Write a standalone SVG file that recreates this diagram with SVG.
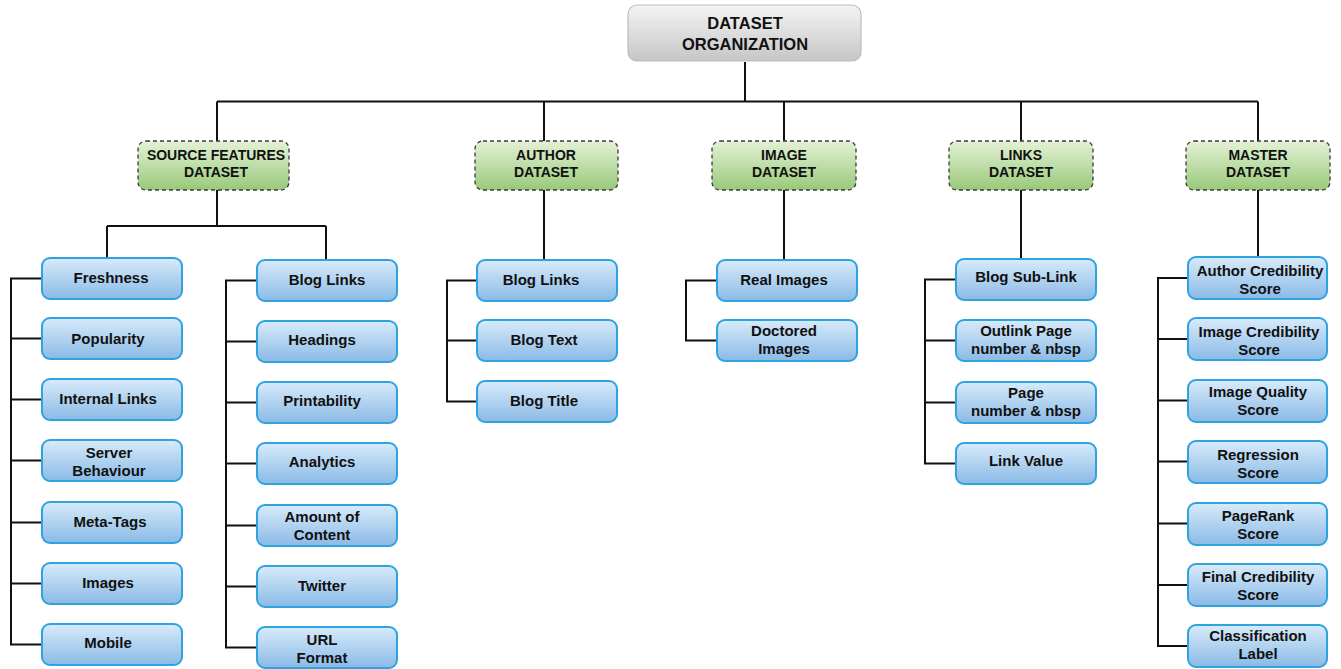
<svg xmlns="http://www.w3.org/2000/svg" width="1341" height="669" viewBox="0 0 1341 669">
  <defs>
    <linearGradient id="gRoot" x1="0" y1="0" x2="0" y2="1">
      <stop offset="0" stop-color="#f4f4f4"/>
      <stop offset="1" stop-color="#c6c6c6"/>
    </linearGradient>
    <linearGradient id="gCat" x1="0" y1="0" x2="0" y2="1">
      <stop offset="0" stop-color="#e4f1d6"/>
      <stop offset="1" stop-color="#98ca7a"/>
    </linearGradient>
    <linearGradient id="gLeaf" x1="0" y1="0" x2="0" y2="1">
      <stop offset="0" stop-color="#d8ebfa"/>
      <stop offset="1" stop-color="#8abae6"/>
    </linearGradient>
  </defs>
  <style>
    text { font-family: "Liberation Sans", Arial, sans-serif; font-weight: bold; fill: #111; text-anchor: middle; }
    .root rect { fill: url(#gRoot); stroke: #bdbdbd; stroke-width: 1.2; }
    .root text { font-size: 16.5px; }
    .cat rect { fill: url(#gCat); stroke: #3a3a3a; stroke-width: 1.3; stroke-dasharray: 4 3; }
    .cat text { font-size: 14px; }
    .leaf rect { fill: url(#gLeaf); stroke: #2ea3e0; stroke-width: 2; }
    .leaf text { font-size: 15px; }
    #connectors path { fill: none; stroke: #111; stroke-width: 2; }
  </style>

  <rect width="1341" height="669" fill="#ffffff"/>

  <!-- connectors -->
  <g id="connectors">
    <path d="M745 62 V101.5"/>
    <path d="M217 101.5 H1258"/>
    <path d="M217 101.5 V141 M544 101.5 V141 M784 101.5 V141 M1021 101.5 V141 M1258 101.5 V141"/>
    <!-- source features -->
    <path d="M217 190 V226 M107 226 H326 M107 226 V258 M326 226 V260"/>
    <path d="M42 278.5 H11 V644.5 H42 M11 338.5 H42 M11 399.5 H42 M11 460.5 H42 M11 522.5 H42 M11 583.5 H42"/>
    <path d="M257 280.5 H226 V647.5 H257 M226 341.5 H257 M226 402.5 H257 M226 463.5 H257 M226 525.5 H257 M226 586.5 H257"/>
    <!-- author -->
    <path d="M544 190 V260"/>
    <path d="M477 280.5 H447 V401.5 H477 M447 340.5 H477"/>
    <!-- image -->
    <path d="M784 190 V260"/>
    <path d="M717 280.5 H686 V340.5 H717"/>
    <!-- links -->
    <path d="M1021 190 V259"/>
    <path d="M956 279.5 H925 V463.5 H956 M925 340.5 H956 M925 402.5 H956"/>
    <!-- master -->
    <path d="M1258 190 V257"/>
    <path d="M1188 278 H1158 V646 H1188 M1158 339 H1188 M1158 400.5 H1188 M1158 461.5 H1188 M1158 523.5 H1188 M1158 585 H1188"/>
  </g>

  <!-- root -->
  <g id="root" class="root">
    <rect x="628" y="5" width="233" height="56" rx="9"/>
    <text x="745" y="29">DATASET</text>
    <text x="745" y="50">ORGANIZATION</text>
  </g>

  <!-- categories -->
  <g id="cat-source" class="cat">
    <rect x="138" y="141" width="151" height="49" rx="8"/>
    <text x="216" y="160">SOURCE FEATURES</text>
    <text x="216" y="177">DATASET</text>
  </g>
  <g id="cat-author" class="cat">
    <rect x="475" y="141" width="143" height="49" rx="8"/>
    <text x="546" y="160">AUTHOR</text>
    <text x="546" y="177">DATASET</text>
  </g>
  <g id="cat-image" class="cat">
    <rect x="712" y="141" width="144" height="49" rx="8"/>
    <text x="784" y="160">IMAGE</text>
    <text x="784" y="177">DATASET</text>
  </g>
  <g id="cat-links" class="cat">
    <rect x="949" y="141" width="144" height="49" rx="8"/>
    <text x="1021" y="160">LINKS</text>
    <text x="1021" y="177">DATASET</text>
  </g>
  <g id="cat-master" class="cat">
    <rect x="1186" y="141" width="144" height="49" rx="8"/>
    <text x="1258" y="160">MASTER</text>
    <text x="1258" y="177">DATASET</text>
  </g>

  <!-- source features: column A -->
  <g id="sf-freshness" class="leaf"><rect x="42" y="258" width="140" height="41" rx="8"/><text x="111" y="283">Freshness</text></g>
  <g id="sf-popularity" class="leaf"><rect x="42" y="318" width="140" height="41" rx="8"/><text x="108" y="344">Popularity</text></g>
  <g id="sf-internal-links" class="leaf"><rect x="42" y="379" width="140" height="41" rx="8"/><text x="108" y="404">Internal Links</text></g>
  <g id="sf-server-behaviour" class="leaf"><rect x="42" y="440" width="140" height="41" rx="8"/><text x="109" y="458">Server</text><text x="109" y="476">Behaviour</text></g>
  <g id="sf-meta-tags" class="leaf"><rect x="42" y="502" width="140" height="41" rx="8"/><text x="110" y="527">Meta-Tags</text></g>
  <g id="sf-images" class="leaf"><rect x="42" y="563" width="140" height="41" rx="8"/><text x="108" y="588">Images</text></g>
  <g id="sf-mobile" class="leaf"><rect x="42" y="624" width="140" height="41" rx="8"/><text x="108" y="648">Mobile</text></g>

  <!-- source features: column B -->
  <g id="sf-blog-links" class="leaf"><rect x="257" y="260" width="140" height="41" rx="8"/><text x="327" y="285">Blog Links</text></g>
  <g id="sf-headings" class="leaf"><rect x="257" y="321" width="140" height="41" rx="8"/><text x="322" y="345">Headings</text></g>
  <g id="sf-printability" class="leaf"><rect x="257" y="382" width="140" height="41" rx="8"/><text x="322" y="406">Printability</text></g>
  <g id="sf-analytics" class="leaf"><rect x="257" y="443" width="140" height="41" rx="8"/><text x="322" y="467">Analytics</text></g>
  <g id="sf-amount-content" class="leaf"><rect x="257" y="505" width="140" height="41" rx="8"/><text x="322" y="522">Amount of</text><text x="322" y="540">Content</text></g>
  <g id="sf-twitter" class="leaf"><rect x="257" y="566" width="140" height="41" rx="8"/><text x="322" y="591">Twitter</text></g>
  <g id="sf-url-format" class="leaf"><rect x="257" y="627" width="140" height="41" rx="8"/><text x="322" y="645">URL</text><text x="322" y="663">Format</text></g>

  <!-- author -->
  <g id="au-blog-links" class="leaf"><rect x="477" y="260" width="140" height="41" rx="8"/><text x="541" y="285">Blog Links</text></g>
  <g id="au-blog-text" class="leaf"><rect x="477" y="320" width="140" height="41" rx="8"/><text x="544" y="345">Blog Text</text></g>
  <g id="au-blog-title" class="leaf"><rect x="477" y="381" width="140" height="41" rx="8"/><text x="544" y="406">Blog Title</text></g>

  <!-- image -->
  <g id="im-real" class="leaf"><rect x="717" y="260" width="140" height="41" rx="8"/><text x="784" y="285">Real Images</text></g>
  <g id="im-doctored" class="leaf"><rect x="717" y="320" width="140" height="41" rx="8"/><text x="784" y="336">Doctored</text><text x="784" y="354">Images</text></g>

  <!-- links -->
  <g id="ln-sub-link" class="leaf"><rect x="956" y="259" width="140" height="41" rx="8"/><text x="1026" y="282">Blog Sub-Link</text></g>
  <g id="ln-outlink" class="leaf"><rect x="956" y="320" width="140" height="41" rx="8"/><text x="1026" y="336">Outlink Page</text><text x="1026" y="354">number &amp; nbsp</text></g>
  <g id="ln-page" class="leaf"><rect x="956" y="382" width="140" height="41" rx="8"/><text x="1026" y="398">Page</text><text x="1026" y="416">number &amp; nbsp</text></g>
  <g id="ln-link-value" class="leaf"><rect x="956" y="443" width="140" height="41" rx="8"/><text x="1026" y="466">Link Value</text></g>

  <!-- master -->
  <g id="ms-author-cred" class="leaf"><rect x="1188" y="257" width="139" height="42" rx="8"/><text x="1260" y="276">Author Credibility</text><text x="1260" y="294">Score</text></g>
  <g id="ms-image-cred" class="leaf"><rect x="1188" y="318" width="139" height="42" rx="8"/><text x="1259" y="337">Image Credibility</text><text x="1259" y="355">Score</text></g>
  <g id="ms-image-quality" class="leaf"><rect x="1188" y="380" width="139" height="42" rx="8"/><text x="1258" y="397">Image Quality</text><text x="1258" y="415">Score</text></g>
  <g id="ms-regression" class="leaf"><rect x="1188" y="441" width="139" height="42" rx="8"/><text x="1258" y="460">Regression</text><text x="1258" y="478">Score</text></g>
  <g id="ms-pagerank" class="leaf"><rect x="1188" y="503" width="139" height="42" rx="8"/><text x="1258" y="521">PageRank</text><text x="1258" y="539">Score</text></g>
  <g id="ms-final-cred" class="leaf"><rect x="1188" y="564" width="139" height="42" rx="8"/><text x="1258" y="582">Final Credibility</text><text x="1258" y="600">Score</text></g>
  <g id="ms-classification" class="leaf"><rect x="1188" y="625" width="139" height="42" rx="8"/><text x="1258" y="641">Classification</text><text x="1258" y="659">Label</text></g>
</svg>
